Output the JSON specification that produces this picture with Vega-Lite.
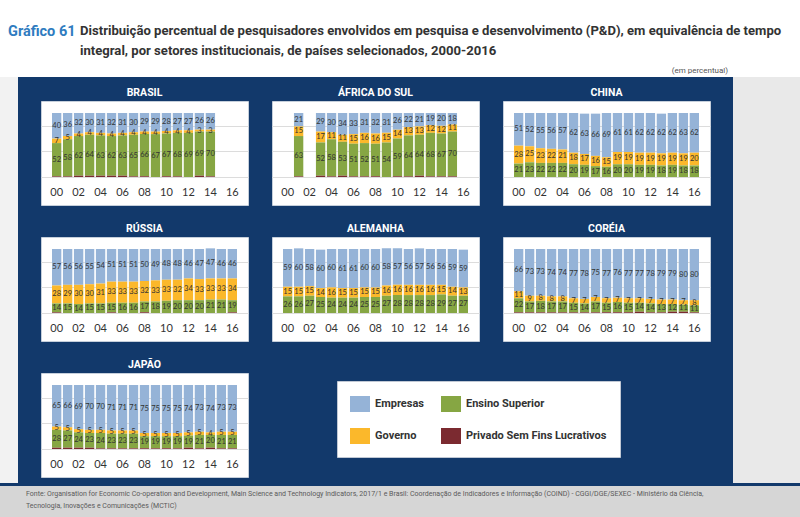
{
  "$schema": "https://vega.github.io/schema/vega-lite/v6.json",
  "background": "#12396b",
  "padding": 0,
  "autosize": {"type": "pad"},
  "datasets": {
    "d": [
      {"p":"BR","a":"00","E":40,"G":7,"S":52,"P":1},
      {"p":"BR","a":"01","E":36,"G":5,"S":58,"P":1},
      {"p":"BR","a":"02","E":32,"G":4,"S":62,"P":2},
      {"p":"BR","a":"03","E":30,"G":4,"S":64,"P":2},
      {"p":"BR","a":"04","E":31,"G":4,"S":63,"P":2},
      {"p":"BR","a":"05","E":32,"G":4,"S":62,"P":2},
      {"p":"BR","a":"06","E":31,"G":4,"S":63,"P":2},
      {"p":"BR","a":"07","E":30,"G":4,"S":65,"P":1},
      {"p":"BR","a":"08","E":29,"G":4,"S":66,"P":1},
      {"p":"BR","a":"09","E":29,"G":4,"S":67,"P":0},
      {"p":"BR","a":"10","E":28,"G":4,"S":67,"P":1},
      {"p":"BR","a":"11","E":27,"G":4,"S":68,"P":1},
      {"p":"BR","a":"12","E":27,"G":4,"S":69,"P":0},
      {"p":"BR","a":"13","E":26,"G":3,"S":69,"P":2},
      {"p":"BR","a":"14","E":26,"G":3,"S":70,"P":1},
      {"p":"ZA","a":"01","E":21,"G":15,"S":63,"P":1},
      {"p":"ZA","a":"03","E":29,"G":17,"S":52,"P":2},
      {"p":"ZA","a":"04","E":30,"G":11,"S":58,"P":1},
      {"p":"ZA","a":"05","E":34,"G":11,"S":53,"P":2},
      {"p":"ZA","a":"06","E":33,"G":15,"S":51,"P":1},
      {"p":"ZA","a":"07","E":31,"G":16,"S":52,"P":1},
      {"p":"ZA","a":"08","E":32,"G":16,"S":51,"P":1},
      {"p":"ZA","a":"09","E":31,"G":15,"S":54,"P":0},
      {"p":"ZA","a":"10","E":26,"G":14,"S":59,"P":1},
      {"p":"ZA","a":"11","E":22,"G":13,"S":64,"P":1},
      {"p":"ZA","a":"12","E":21,"G":13,"S":64,"P":2},
      {"p":"ZA","a":"13","E":19,"G":12,"S":68,"P":1},
      {"p":"ZA","a":"14","E":20,"G":12,"S":67,"P":1},
      {"p":"ZA","a":"15","E":18,"G":11,"S":70,"P":1},
      {"p":"CN","a":"00","E":51,"G":28,"S":21,"P":0},
      {"p":"CN","a":"01","E":52,"G":25,"S":23,"P":0},
      {"p":"CN","a":"02","E":55,"G":23,"S":22,"P":0},
      {"p":"CN","a":"03","E":56,"G":22,"S":22,"P":0},
      {"p":"CN","a":"04","E":57,"G":21,"S":22,"P":0},
      {"p":"CN","a":"05","E":62,"G":18,"S":20,"P":0},
      {"p":"CN","a":"06","E":63,"G":17,"S":19,"P":0},
      {"p":"CN","a":"07","E":66,"G":16,"S":17,"P":0},
      {"p":"CN","a":"08","E":69,"G":15,"S":16,"P":0},
      {"p":"CN","a":"09","E":61,"G":19,"S":20,"P":0},
      {"p":"CN","a":"10","E":61,"G":19,"S":20,"P":0},
      {"p":"CN","a":"11","E":62,"G":19,"S":19,"P":0},
      {"p":"CN","a":"12","E":62,"G":19,"S":19,"P":0},
      {"p":"CN","a":"13","E":62,"G":19,"S":18,"P":0},
      {"p":"CN","a":"14","E":62,"G":19,"S":19,"P":0},
      {"p":"CN","a":"15","E":63,"G":19,"S":18,"P":0},
      {"p":"CN","a":"16","E":62,"G":20,"S":18,"P":0},
      {"p":"RU","a":"00","E":57,"G":28,"S":14,"P":1},
      {"p":"RU","a":"01","E":56,"G":29,"S":15,"P":0},
      {"p":"RU","a":"02","E":56,"G":30,"S":14,"P":0},
      {"p":"RU","a":"03","E":55,"G":30,"S":15,"P":0},
      {"p":"RU","a":"04","E":54,"G":31,"S":15,"P":0},
      {"p":"RU","a":"05","E":51,"G":33,"S":15,"P":1},
      {"p":"RU","a":"06","E":51,"G":33,"S":16,"P":0},
      {"p":"RU","a":"07","E":51,"G":33,"S":16,"P":0},
      {"p":"RU","a":"08","E":50,"G":32,"S":17,"P":1},
      {"p":"RU","a":"09","E":49,"G":33,"S":18,"P":0},
      {"p":"RU","a":"10","E":48,"G":33,"S":19,"P":0},
      {"p":"RU","a":"11","E":48,"G":32,"S":20,"P":0},
      {"p":"RU","a":"12","E":46,"G":34,"S":20,"P":0},
      {"p":"RU","a":"13","E":47,"G":33,"S":20,"P":0},
      {"p":"RU","a":"14","E":47,"G":33,"S":21,"P":0},
      {"p":"RU","a":"15","E":46,"G":33,"S":21,"P":0},
      {"p":"RU","a":"16","E":46,"G":34,"S":19,"P":1},
      {"p":"DE","a":"00","E":59,"G":15,"S":26,"P":0},
      {"p":"DE","a":"01","E":60,"G":15,"S":26,"P":0},
      {"p":"DE","a":"02","E":58,"G":15,"S":27,"P":0},
      {"p":"DE","a":"03","E":60,"G":14,"S":25,"P":0},
      {"p":"DE","a":"04","E":60,"G":16,"S":24,"P":0},
      {"p":"DE","a":"05","E":61,"G":15,"S":24,"P":0},
      {"p":"DE","a":"06","E":61,"G":15,"S":24,"P":0},
      {"p":"DE","a":"07","E":60,"G":15,"S":25,"P":0},
      {"p":"DE","a":"08","E":60,"G":15,"S":25,"P":0},
      {"p":"DE","a":"09","E":58,"G":16,"S":27,"P":0},
      {"p":"DE","a":"10","E":57,"G":16,"S":28,"P":0},
      {"p":"DE","a":"11","E":56,"G":16,"S":28,"P":0},
      {"p":"DE","a":"12","E":57,"G":16,"S":28,"P":0},
      {"p":"DE","a":"13","E":56,"G":16,"S":28,"P":0},
      {"p":"DE","a":"14","E":56,"G":15,"S":29,"P":0},
      {"p":"DE","a":"15","E":59,"G":14,"S":27,"P":0},
      {"p":"DE","a":"16","E":59,"G":13,"S":27,"P":0},
      {"p":"KR","a":"00","E":66,"G":11,"S":22,"P":1},
      {"p":"KR","a":"01","E":73,"G":9,"S":17,"P":1},
      {"p":"KR","a":"02","E":73,"G":8,"S":18,"P":1},
      {"p":"KR","a":"03","E":74,"G":8,"S":17,"P":1},
      {"p":"KR","a":"04","E":74,"G":8,"S":17,"P":1},
      {"p":"KR","a":"05","E":77,"G":7,"S":15,"P":1},
      {"p":"KR","a":"06","E":78,"G":7,"S":14,"P":1},
      {"p":"KR","a":"07","E":75,"G":7,"S":17,"P":1},
      {"p":"KR","a":"08","E":77,"G":7,"S":15,"P":1},
      {"p":"KR","a":"09","E":76,"G":7,"S":16,"P":1},
      {"p":"KR","a":"10","E":77,"G":7,"S":15,"P":1},
      {"p":"KR","a":"11","E":77,"G":7,"S":14,"P":2},
      {"p":"KR","a":"12","E":78,"G":7,"S":14,"P":1},
      {"p":"KR","a":"13","E":79,"G":7,"S":13,"P":1},
      {"p":"KR","a":"14","E":79,"G":7,"S":12,"P":2},
      {"p":"KR","a":"15","E":80,"G":7,"S":11,"P":2},
      {"p":"KR","a":"16","E":80,"G":8,"S":11,"P":1},
      {"p":"JP","a":"00","E":65,"G":5,"S":28,"P":2},
      {"p":"JP","a":"01","E":66,"G":5,"S":27,"P":2},
      {"p":"JP","a":"02","E":69,"G":5,"S":24,"P":2},
      {"p":"JP","a":"03","E":70,"G":5,"S":23,"P":2},
      {"p":"JP","a":"04","E":70,"G":5,"S":24,"P":1},
      {"p":"JP","a":"05","E":71,"G":5,"S":23,"P":1},
      {"p":"JP","a":"06","E":71,"G":5,"S":23,"P":1},
      {"p":"JP","a":"07","E":71,"G":5,"S":23,"P":1},
      {"p":"JP","a":"08","E":75,"G":5,"S":19,"P":1},
      {"p":"JP","a":"09","E":75,"G":5,"S":19,"P":1},
      {"p":"JP","a":"10","E":75,"G":5,"S":19,"P":1},
      {"p":"JP","a":"11","E":75,"G":5,"S":19,"P":1},
      {"p":"JP","a":"12","E":74,"G":5,"S":19,"P":2},
      {"p":"JP","a":"13","E":73,"G":5,"S":21,"P":1},
      {"p":"JP","a":"14","E":74,"G":4,"S":20,"P":2},
      {"p":"JP","a":"15","E":73,"G":5,"S":21,"P":1},
      {"p":"JP","a":"16","E":73,"G":5,"S":21,"P":1}
    ]
  },
  "vconcat": [
    {
      "vconcat": [
        {
          "hconcat": [
            {"width": 78, "height": 62, "view": {"fill": "#ffffff", "stroke": null},
             "data": {"values": [{}]}, "mark": "text", "encoding": {"text": {"value": ""}},
             "title": {"text": "Gráfico 61", "color": "#2f7cc0", "fontSize": 14.5, "fontWeight": "bold", "font": "Roboto", "anchor": "start", "frame": "group", "dx": 8, "orient": "top", "baseline": "bottom", "offset": -53}},
            {"width": 722, "height": 62, "view": {"fill": "#ffffff", "stroke": null},
             "data": {"values": [{}]}, "mark": "text", "encoding": {"text": {"value": ""}},
             "title": {"text": ["Distribuição percentual de pesquisadores envolvidos em pesquisa e desenvolvimento (P&D), em equivalência de tempo", "integral, por setores institucionais, de países selecionados, 2000-2016"], "color": "#333333", "fontSize": 13.1, "fontWeight": "bold", "font": "Roboto", "anchor": "start", "frame": "group", "dx": 2, "orient": "top", "baseline": "bottom", "offset": -71, "lineHeight": 20, "limit": 718}}
          ],
          "spacing": 0
        },
        {"width": 800, "height": 15, "view": {"fill": "#ffffff", "stroke": null},
         "data": {"values": [{}]}, "mark": "text", "encoding": {"text": {"value": ""}},
         "title": {"text": "(em percentual)", "color": "#555555", "fontSize": 8, "fontWeight": "normal", "font": "Roboto", "anchor": "end", "frame": "group", "dx": -72, "orient": "top", "baseline": "bottom", "offset": -21}}
      ],
      "spacing": 0
    },
    {
      "hconcat": [
        {"width": 18, "height": 406, "view": {"fill": "#f2f2f2", "stroke": null},
         "data": {"values": [{}]}, "mark": "text", "encoding": {"text": {"value": ""}}},
        {
          "vconcat": [
            {"width": 10, "height": 9.5, "data": {"values": [{}]}, "mark": "text", "encoding": {"text": {"value": ""}}},
            {
              "hconcat": [
                {"width": 207, "height": 104, "view": {"fill": "white", "stroke": "#c5cfdb"},
                 "title": {"text": "BRASIL"},
                 "data": {"name": "d"},
                 "transform": [{"filter": "datum.p === 'BR'"}, {"fold": ["E","G","S","P"], "as": ["k","v"]}, {"calculate": "indexof(['P','S','G','E'], datum.k)", "as": "o"}, {"stack": "v", "groupby": ["a"], "sort": [{"field": "o", "order": "ascending"}], "as": ["v0","v1"]}, {"calculate": "(datum.v0+datum.v1)/2", "as": "m"}],
                 "encoding": {"x": {"field": "a", "type": "nominal", "scale": {"domain": ["00","01","02","03","04","05","06","07","08","09","10","11","12","13","14","15","16"]}, "axis": {"values": ["00","02","04","06","08","10","12","14","16"], "title": null, "offset": -28}}},
                 "layer": [
                   {"mark": {"type": "bar"}, "encoding": {"y": {"field": "v0", "type": "quantitative", "scale": {"domain": [-43.75, 118.75], "nice": false, "zero": false}, "axis": {"values": [0,20,40,60,80,100], "title": null}}, "y2": {"field": "v1"}, "color": {"field": "k", "type": "nominal", "scale": {"domain": ["E","S","G","P"], "range": ["#95b3d7","#86a643","#fbb82b","#7b2a30"]}, "legend": {"orient": "none", "legendX": 337, "legendY": 381, "columns": 2, "direction": "horizontal", "title": null, "fillColor": "white", "strokeColor": "#c0c8d4", "padding": 13, "symbolType": "M-1,-0.8H1V0.8H-1Z", "symbolSize": 400, "symbolStrokeWidth": 0, "symbolOpacity": 1, "labelFont": "Roboto", "labelFontSize": 11, "labelFontWeight": "bold", "labelColor": "#333333", "labelOffset": 5, "rowPadding": 14, "columnPadding": 17, "labelLimit": 300, "labelExpr": "{'E':'Empresas','S':'Ensino Superior','G':'Governo','P':'Privado Sem Fins Lucrativos'}[datum.label]"}}}},
                   {"transform": [{"filter": "datum.k !== 'P'"}], "mark": {"type": "text"}, "encoding": {"y": {"field": "m", "type": "quantitative"}, "text": {"field": "v", "type": "quantitative"}}}
                 ]},
                {"width": 207, "height": 104, "view": {"fill": "white", "stroke": "#c5cfdb"},
                 "title": {"text": "ÁFRICA DO SUL"},
                 "data": {"name": "d"},
                 "transform": [{"filter": "datum.p === 'ZA'"}, {"fold": ["E","G","S","P"], "as": ["k","v"]}, {"calculate": "indexof(['P','S','G','E'], datum.k)", "as": "o"}, {"stack": "v", "groupby": ["a"], "sort": [{"field": "o", "order": "ascending"}], "as": ["v0","v1"]}, {"calculate": "(datum.v0+datum.v1)/2", "as": "m"}],
                 "encoding": {"x": {"field": "a", "type": "nominal", "scale": {"domain": ["00","01","02","03","04","05","06","07","08","09","10","11","12","13","14","15","16"]}, "axis": {"values": ["00","02","04","06","08","10","12","14","16"], "title": null, "offset": -28}}},
                 "layer": [
                   {"mark": {"type": "bar"}, "encoding": {"y": {"field": "v0", "type": "quantitative", "scale": {"domain": [-43.75, 118.75], "nice": false, "zero": false}, "axis": {"values": [0,20,40,60,80,100], "title": null}}, "y2": {"field": "v1"}, "color": {"field": "k", "type": "nominal", "scale": {"domain": ["E","S","G","P"], "range": ["#95b3d7","#86a643","#fbb82b","#7b2a30"]}, "legend": {"orient": "none", "legendX": 337, "legendY": 381, "columns": 2, "direction": "horizontal", "title": null, "fillColor": "white", "strokeColor": "#c0c8d4", "padding": 13, "symbolType": "M-1,-0.8H1V0.8H-1Z", "symbolSize": 400, "symbolStrokeWidth": 0, "symbolOpacity": 1, "labelFont": "Roboto", "labelFontSize": 11, "labelFontWeight": "bold", "labelColor": "#333333", "labelOffset": 5, "rowPadding": 14, "columnPadding": 17, "labelLimit": 300, "labelExpr": "{'E':'Empresas','S':'Ensino Superior','G':'Governo','P':'Privado Sem Fins Lucrativos'}[datum.label]"}}}},
                   {"transform": [{"filter": "datum.k !== 'P'"}], "mark": {"type": "text"}, "encoding": {"y": {"field": "m", "type": "quantitative"}, "text": {"field": "v", "type": "quantitative"}}}
                 ]},
                {"width": 207, "height": 104, "view": {"fill": "white", "stroke": "#c5cfdb"},
                 "title": {"text": "CHINA"},
                 "data": {"name": "d"},
                 "transform": [{"filter": "datum.p === 'CN'"}, {"fold": ["E","G","S","P"], "as": ["k","v"]}, {"calculate": "indexof(['P','S','G','E'], datum.k)", "as": "o"}, {"stack": "v", "groupby": ["a"], "sort": [{"field": "o", "order": "ascending"}], "as": ["v0","v1"]}, {"calculate": "(datum.v0+datum.v1)/2", "as": "m"}],
                 "encoding": {"x": {"field": "a", "type": "nominal", "scale": {"domain": ["00","01","02","03","04","05","06","07","08","09","10","11","12","13","14","15","16"]}, "axis": {"values": ["00","02","04","06","08","10","12","14","16"], "title": null, "offset": -28}}},
                 "layer": [
                   {"mark": {"type": "bar"}, "encoding": {"y": {"field": "v0", "type": "quantitative", "scale": {"domain": [-43.75, 118.75], "nice": false, "zero": false}, "axis": {"values": [0,20,40,60,80,100], "title": null}}, "y2": {"field": "v1"}, "color": {"field": "k", "type": "nominal", "scale": {"domain": ["E","S","G","P"], "range": ["#95b3d7","#86a643","#fbb82b","#7b2a30"]}, "legend": {"orient": "none", "legendX": 337, "legendY": 381, "columns": 2, "direction": "horizontal", "title": null, "fillColor": "white", "strokeColor": "#c0c8d4", "padding": 13, "symbolType": "M-1,-0.8H1V0.8H-1Z", "symbolSize": 400, "symbolStrokeWidth": 0, "symbolOpacity": 1, "labelFont": "Roboto", "labelFontSize": 11, "labelFontWeight": "bold", "labelColor": "#333333", "labelOffset": 5, "rowPadding": 14, "columnPadding": 17, "labelLimit": 300, "labelExpr": "{'E':'Empresas','S':'Ensino Superior','G':'Governo','P':'Privado Sem Fins Lucrativos'}[datum.label]"}}}},
                   {"transform": [{"filter": "datum.k !== 'P'"}], "mark": {"type": "text"}, "encoding": {"y": {"field": "m", "type": "quantitative"}, "text": {"field": "v", "type": "quantitative"}}}
                 ]}
              ],
              "spacing": 22
            },
            {"width": 10, "height": 16.5, "data": {"values": [{}]}, "mark": "text", "encoding": {"text": {"value": ""}}},
            {
              "hconcat": [
                {"width": 207, "height": 104, "view": {"fill": "white", "stroke": "#c5cfdb"},
                 "title": {"text": "RÚSSIA"},
                 "data": {"name": "d"},
                 "transform": [{"filter": "datum.p === 'RU'"}, {"fold": ["E","G","S","P"], "as": ["k","v"]}, {"calculate": "indexof(['P','S','G','E'], datum.k)", "as": "o"}, {"stack": "v", "groupby": ["a"], "sort": [{"field": "o", "order": "ascending"}], "as": ["v0","v1"]}, {"calculate": "(datum.v0+datum.v1)/2", "as": "m"}],
                 "encoding": {"x": {"field": "a", "type": "nominal", "scale": {"domain": ["00","01","02","03","04","05","06","07","08","09","10","11","12","13","14","15","16"]}, "axis": {"values": ["00","02","04","06","08","10","12","14","16"], "title": null, "offset": -28}}},
                 "layer": [
                   {"mark": {"type": "bar"}, "encoding": {"y": {"field": "v0", "type": "quantitative", "scale": {"domain": [-43.75, 118.75], "nice": false, "zero": false}, "axis": {"values": [0,20,40,60,80,100], "title": null}}, "y2": {"field": "v1"}, "color": {"field": "k", "type": "nominal", "scale": {"domain": ["E","S","G","P"], "range": ["#95b3d7","#86a643","#fbb82b","#7b2a30"]}, "legend": {"orient": "none", "legendX": 337, "legendY": 381, "columns": 2, "direction": "horizontal", "title": null, "fillColor": "white", "strokeColor": "#c0c8d4", "padding": 13, "symbolType": "M-1,-0.8H1V0.8H-1Z", "symbolSize": 400, "symbolStrokeWidth": 0, "symbolOpacity": 1, "labelFont": "Roboto", "labelFontSize": 11, "labelFontWeight": "bold", "labelColor": "#333333", "labelOffset": 5, "rowPadding": 14, "columnPadding": 17, "labelLimit": 300, "labelExpr": "{'E':'Empresas','S':'Ensino Superior','G':'Governo','P':'Privado Sem Fins Lucrativos'}[datum.label]"}}}},
                   {"transform": [{"filter": "datum.k !== 'P'"}], "mark": {"type": "text"}, "encoding": {"y": {"field": "m", "type": "quantitative"}, "text": {"field": "v", "type": "quantitative"}}}
                 ]},
                {"width": 207, "height": 104, "view": {"fill": "white", "stroke": "#c5cfdb"},
                 "title": {"text": "ALEMANHA"},
                 "data": {"name": "d"},
                 "transform": [{"filter": "datum.p === 'DE'"}, {"fold": ["E","G","S","P"], "as": ["k","v"]}, {"calculate": "indexof(['P','S','G','E'], datum.k)", "as": "o"}, {"stack": "v", "groupby": ["a"], "sort": [{"field": "o", "order": "ascending"}], "as": ["v0","v1"]}, {"calculate": "(datum.v0+datum.v1)/2", "as": "m"}],
                 "encoding": {"x": {"field": "a", "type": "nominal", "scale": {"domain": ["00","01","02","03","04","05","06","07","08","09","10","11","12","13","14","15","16"]}, "axis": {"values": ["00","02","04","06","08","10","12","14","16"], "title": null, "offset": -28}}},
                 "layer": [
                   {"mark": {"type": "bar"}, "encoding": {"y": {"field": "v0", "type": "quantitative", "scale": {"domain": [-43.75, 118.75], "nice": false, "zero": false}, "axis": {"values": [0,20,40,60,80,100], "title": null}}, "y2": {"field": "v1"}, "color": {"field": "k", "type": "nominal", "scale": {"domain": ["E","S","G","P"], "range": ["#95b3d7","#86a643","#fbb82b","#7b2a30"]}, "legend": {"orient": "none", "legendX": 337, "legendY": 381, "columns": 2, "direction": "horizontal", "title": null, "fillColor": "white", "strokeColor": "#c0c8d4", "padding": 13, "symbolType": "M-1,-0.8H1V0.8H-1Z", "symbolSize": 400, "symbolStrokeWidth": 0, "symbolOpacity": 1, "labelFont": "Roboto", "labelFontSize": 11, "labelFontWeight": "bold", "labelColor": "#333333", "labelOffset": 5, "rowPadding": 14, "columnPadding": 17, "labelLimit": 300, "labelExpr": "{'E':'Empresas','S':'Ensino Superior','G':'Governo','P':'Privado Sem Fins Lucrativos'}[datum.label]"}}}},
                   {"transform": [{"filter": "datum.k !== 'P'"}], "mark": {"type": "text"}, "encoding": {"y": {"field": "m", "type": "quantitative"}, "text": {"field": "v", "type": "quantitative"}}}
                 ]},
                {"width": 207, "height": 104, "view": {"fill": "white", "stroke": "#c5cfdb"},
                 "title": {"text": "CORÉIA"},
                 "data": {"name": "d"},
                 "transform": [{"filter": "datum.p === 'KR'"}, {"fold": ["E","G","S","P"], "as": ["k","v"]}, {"calculate": "indexof(['P','S','G','E'], datum.k)", "as": "o"}, {"stack": "v", "groupby": ["a"], "sort": [{"field": "o", "order": "ascending"}], "as": ["v0","v1"]}, {"calculate": "(datum.v0+datum.v1)/2", "as": "m"}],
                 "encoding": {"x": {"field": "a", "type": "nominal", "scale": {"domain": ["00","01","02","03","04","05","06","07","08","09","10","11","12","13","14","15","16"]}, "axis": {"values": ["00","02","04","06","08","10","12","14","16"], "title": null, "offset": -28}}},
                 "layer": [
                   {"mark": {"type": "bar"}, "encoding": {"y": {"field": "v0", "type": "quantitative", "scale": {"domain": [-43.75, 118.75], "nice": false, "zero": false}, "axis": {"values": [0,20,40,60,80,100], "title": null}}, "y2": {"field": "v1"}, "color": {"field": "k", "type": "nominal", "scale": {"domain": ["E","S","G","P"], "range": ["#95b3d7","#86a643","#fbb82b","#7b2a30"]}, "legend": {"orient": "none", "legendX": 337, "legendY": 381, "columns": 2, "direction": "horizontal", "title": null, "fillColor": "white", "strokeColor": "#c0c8d4", "padding": 13, "symbolType": "M-1,-0.8H1V0.8H-1Z", "symbolSize": 400, "symbolStrokeWidth": 0, "symbolOpacity": 1, "labelFont": "Roboto", "labelFontSize": 11, "labelFontWeight": "bold", "labelColor": "#333333", "labelOffset": 5, "rowPadding": 14, "columnPadding": 17, "labelLimit": 300, "labelExpr": "{'E':'Empresas','S':'Ensino Superior','G':'Governo','P':'Privado Sem Fins Lucrativos'}[datum.label]"}}}},
                   {"transform": [{"filter": "datum.k !== 'P'"}], "mark": {"type": "text"}, "encoding": {"y": {"field": "m", "type": "quantitative"}, "text": {"field": "v", "type": "quantitative"}}}
                 ]}
              ],
              "spacing": 22
            },
            {"width": 10, "height": 16.5, "data": {"values": [{}]}, "mark": "text", "encoding": {"text": {"value": ""}}},
            {"width": 207, "height": 104, "view": {"fill": "white", "stroke": "#c5cfdb"},
             "title": {"text": "JAPÃO"},
             "data": {"name": "d"},
             "transform": [{"filter": "datum.p === 'JP'"}, {"fold": ["E","G","S","P"], "as": ["k","v"]}, {"calculate": "indexof(['P','S','G','E'], datum.k)", "as": "o"}, {"stack": "v", "groupby": ["a"], "sort": [{"field": "o", "order": "ascending"}], "as": ["v0","v1"]}, {"calculate": "(datum.v0+datum.v1)/2", "as": "m"}],
             "encoding": {"x": {"field": "a", "type": "nominal", "scale": {"domain": ["00","01","02","03","04","05","06","07","08","09","10","11","12","13","14","15","16"]}, "axis": {"values": ["00","02","04","06","08","10","12","14","16"], "title": null, "offset": -28}}},
             "layer": [
               {"mark": {"type": "bar"}, "encoding": {"y": {"field": "v0", "type": "quantitative", "scale": {"domain": [-43.75, 118.75], "nice": false, "zero": false}, "axis": {"values": [0,20,40,60,80,100], "title": null}}, "y2": {"field": "v1"}, "color": {"field": "k", "type": "nominal", "scale": {"domain": ["E","S","G","P"], "range": ["#95b3d7","#86a643","#fbb82b","#7b2a30"]}, "legend": {"orient": "none", "legendX": 337, "legendY": 381, "columns": 2, "direction": "horizontal", "title": null, "fillColor": "white", "strokeColor": "#c0c8d4", "padding": 13, "symbolType": "M-1,-0.8H1V0.8H-1Z", "symbolSize": 400, "symbolStrokeWidth": 0, "symbolOpacity": 1, "labelFont": "Roboto", "labelFontSize": 11, "labelFontWeight": "bold", "labelColor": "#333333", "labelOffset": 5, "rowPadding": 14, "columnPadding": 17, "labelLimit": 300, "labelExpr": "{'E':'Empresas','S':'Ensino Superior','G':'Governo','P':'Privado Sem Fins Lucrativos'}[datum.label]"}}}},
               {"transform": [{"filter": "datum.k !== 'P'"}], "mark": {"type": "text"}, "encoding": {"y": {"field": "m", "type": "quantitative"}, "text": {"field": "v", "type": "quantitative"}}}
             ]},
            {"width": 10, "height": 2, "data": {"values": [{}]}, "mark": "text", "encoding": {"text": {"value": ""}}}
          ],
          "spacing": 0
        },
        {"width": 69, "height": 406, "view": {"fill": "#e9e9e9", "stroke": null},
         "data": {"values": [{}]}, "mark": "text", "encoding": {"text": {"value": ""}}}
      ],
      "spacing": 22
    },
    {"width": 800, "height": 34, "view": {"fill": "#d6d6d6", "stroke": null},
     "data": {"values": [{}]}, "mark": "text", "encoding": {"text": {"value": ""}},
     "title": {"text": ["Fonte: Organisation for Economic Co-operation and Development, Main Science and Technology Indicators, 2017/1 e Brasil: Coordenação de Indicadores e Informação (COIND) - CGGI/DGE/SEXEC - Ministério da Ciência,", "Tecnologia, Inovações e Comunicações (MCTIC)"], "color": "#5a5a5a", "fontSize": 7, "fontWeight": "normal", "font": "Roboto", "anchor": "start", "frame": "group", "dx": 26, "orient": "top", "baseline": "bottom", "offset": -30, "lineHeight": 12, "limit": 770}}
  ],
  "spacing": 0,
  "config": {
    "view": {"stroke": null},
    "title": {"color": "white", "fontSize": 10.5, "fontWeight": "bold", "font": "Roboto", "offset": 3, "anchor": "middle", "baseline": "bottom"},
    "axisX": {"domain": false, "ticks": false, "labelPadding": 9, "labelFontSize": 11, "labelColor": "#333333", "labelFont": "Lato", "labelAngle": 0, "grid": false},
    "axisY": {"domain": false, "ticks": false, "labels": false, "grid": true, "gridColor": "#dcdcdc", "gridWidth": 1},
    "scale": {"bandPaddingInner": 0.15, "bandPaddingOuter": 1.2},
    "text": {"fontSize": 7.5, "color": "#333333", "font": "Lato", "baseline": "middle"}
  }
}
